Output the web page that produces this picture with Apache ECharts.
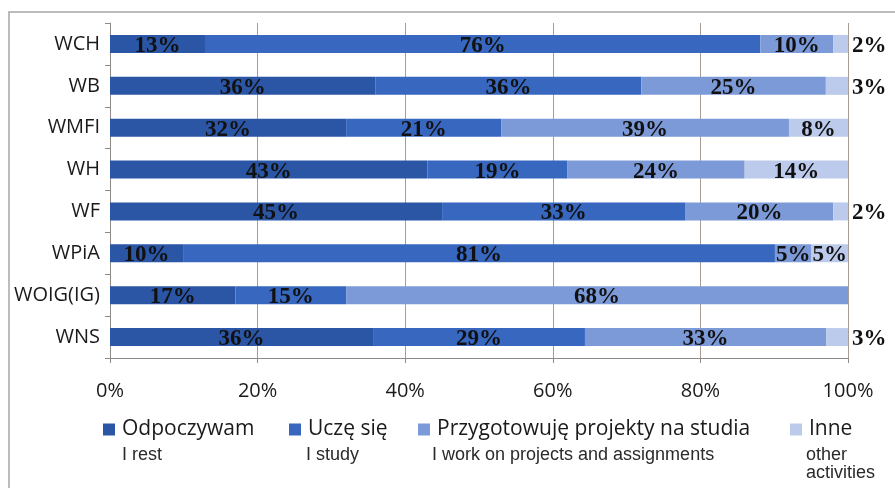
<!DOCTYPE html>
<html>
<head>
<meta charset="utf-8">
<script src="https://cdn.jsdelivr.net/npm/echarts@6/dist/echarts.min.js"></script>
<style>html,body{margin:0;padding:0;background:#fff;}#c{width:895px;height:488px;}</style>
</head>
<body>
<div id="c"></div>
<script>
var categories = ['WCH', 'WB', 'WMFI', 'WH', 'WF', 'WPiA', 'WOIG(IG)', 'WNS'];
var seriesNames = ['Odpoczywam', 'Uczę się', 'Przygotowuję projekty na studia', 'Inne'];
var englishNames = ['I rest', 'I study', 'I work on projects and assignments', 'other\nactivities'];
var odpoczywam = [13, 36, 32, 43, 45, 10, 17, 36];
var uczeSie = [76, 36, 21, 19, 33, 81, 15, 29];
var projekty = [10, 25, 39, 24, 20, 5, 68, 33];
var inne = [2, 3, 8, 14, 2, 5, 0, 3];
var xTicks = ['0%', '20%', '40%', '60%', '80%', '100%'];

var colors = ['#2b56a6', '#3767bf', '#7d9ad8', '#bccbeb'];
var legendColors = ['#21499b', '#2f5fb6', '#7b94d4', '#b9c3e6'];
var raw = [odpoczywam, uczeSie, projekty, inne];
var totals = categories.map(function (c, i) { return raw.reduce(function (s, a) { return s + a[i]; }, 0); });

var series = raw.map(function (arr, k) {
  return {
    name: seriesNames[k],
    type: 'bar',
    stack: 'total',
    barWidth: 18,
    itemStyle: { color: colors[k] },
    data: arr.map(function (v, i) {
      var small = v <= 3;
      return {
        value: v / totals[i] * 100,
        label: {
          show: v > 0,
          position: small ? 'right' : 'inside',
          distance: 4,
          formatter: v + '%',
          fontFamily: 'Liberation Serif',
          fontWeight: 'bold',
          fontSize: 23,
          color: '#111',
          offset: [0, 2]
        }
      };
    })
  };
});

var legends = [103, 289, 418, 790].map(function (x, k) {
  return {
    left: x, top: 419, padding: 0,
    data: [seriesNames[k]],
    icon: 'rect', itemWidth: 12, itemHeight: 12,
    selectedMode: false,
    textStyle: { fontFamily: 'Open Sans', fontSize: 21, color: '#1a1a1a', padding: [0, 0, 0, 2] }
  };
});

var graphics = [{
  type: 'rect', shape: { x: 9, y: 12, width: 900, height: 500 },
  style: { fill: 'none', stroke: '#a6a6a6', lineWidth: 1.5 }, silent: true
}];
[122, 306, 432, 806].forEach(function (x, k) {
  graphics.push({
    type: 'text', left: x, top: 446,
    style: { text: englishNames[k], font: '18px "Liberation Sans"', fill: '#2a2a2a', lineHeight: 18 }
  });
});

var chart = echarts.init(document.getElementById('c'));
chart.setOption({
  animation: false,
  backgroundColor: '#fff',
  grid: { left: 110, right: 47, top: 23, bottom: 130 },
  xAxis: {
    type: 'value', min: 0, max: 100, interval: 20,
    axisLine: { show: true, lineStyle: { color: '#8f8a86', width: 1 } },
    axisTick: { show: true, length: 5, lineStyle: { color: '#8f8a86' } },
    splitLine: { show: true, lineStyle: { color: '#a79d94', width: 1 } },
    axisLabel: {
      margin: 23, fontFamily: 'Open Sans', fontSize: 20, color: '#1a1a1a',
      formatter: function (v) { return xTicks[Math.round(v / 20)]; }
    }
  },
  yAxis: {
    type: 'category', data: categories, inverse: true,
    axisLine: { show: true, lineStyle: { color: '#8f8a86', width: 1 } },
    axisTick: { show: true, length: 5, lineStyle: { color: '#8f8a86' } },
    axisLabel: { margin: 10, fontFamily: 'Open Sans', fontSize: 20, color: '#1a1a1a' }
  },
  legend: legends,
  color: legendColors,
  graphic: graphics,
  series: series
});
</script>
</body>
</html>
